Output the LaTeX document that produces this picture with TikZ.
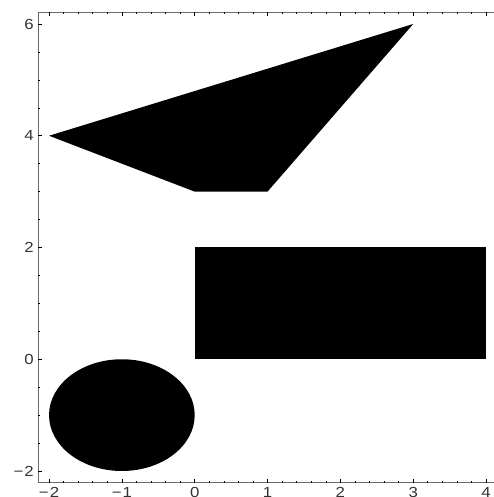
\documentclass[tikz,border=0pt]{standalone}
\usepackage{fontspec}
\setmainfont{Liberation Sans}
\newfontfamily\labfont[FakeStretch=1.15]{Liberation Sans}
\definecolor{framegray}{HTML}{6A6A6A}
\definecolor{labelgray}{HTML}{333333}
\begin{document}
\begin{tikzpicture}[x=72.83pt,y=55.875pt,
  frameline/.style={draw=framegray,line width=0.9pt},
  majortick/.style={draw=black,line width=0.6pt},
  minortick/.style={draw=black,line width=0.6pt},
  ticklabel/.style={font=\labfont\fontsize{14.6}{17}\selectfont,text=labelgray,inner sep=0pt}]
\useasboundingbox (-2.6734,-2.4653) rectangle (4.0958,6.4295);
% shapes
\fill[black] (-2,4) -- (3,6) -- (1,3) -- (0,3) -- cycle;
\fill[black] (0,0) rectangle (4,2);
\fill[black] (-1,-1) ellipse [x radius=72.83pt, y radius=55.875pt];
% frame
\coordinate (bl) at (-2.145,-2.209);
\coordinate (tl) at (-2.145,6.215);
\coordinate (br) at (4.3,-2.209);
\coordinate (tr) at (4.3,6.215);
\draw[frameline] (br) -- (bl) -- (tl) -- (tr);
% x ticks bottom and top
\foreach \i in {-10,...,20}{
  \pgfmathsetmacro{\xv}{\i/5}
  \draw[minortick] (\xv,-2.209) -- ++(0,2pt);
  \draw[minortick] (\xv,6.215) -- ++(0,-2pt);
}
\foreach \xv in {-2,...,4}{
  \draw[majortick] (\xv,-2.209) -- ++(0,4pt);
  \draw[majortick] (\xv,6.215) -- ++(0,-4pt);
}
% y ticks left
\foreach \i in {-4,...,12}{
  \pgfmathsetmacro{\yv}{\i/2}
  \draw[minortick] (-2.145,\yv) -- ++(2pt,0);
}
\foreach \yv in {-2,0,2,4,6}{
  \draw[majortick] (-2.145,\yv) -- ++(4pt,0);
}
% labels
\node[ticklabel,anchor=east] (ly6) at (-2.2065,6) {6};
\node[ticklabel,anchor=east] (ly4) at (-2.2065,4) {4};
\node[ticklabel,anchor=east] (ly2) at (-2.2065,2) {2};
\node[ticklabel,anchor=east] (ly0) at (-2.2065,0) {0};
\node[ticklabel,anchor=east] (lym2) at (-2.2065,-2) {−\kern1pt2};
\node[ticklabel,anchor=north] (lxm2) at (-2,-2.2864) {−\kern1pt2};
\node[ticklabel,anchor=north] (lxm1) at (-1,-2.2864) {−\kern1pt1};
\node[ticklabel,anchor=north] (lx0) at (0,-2.2864) {0};
\node[ticklabel,anchor=north] (lx1) at (1,-2.2864) {1};
\node[ticklabel,anchor=north] (lx2) at (2,-2.2864) {2};
\node[ticklabel,anchor=north] (lx3) at (3,-2.2864) {3};
\node[ticklabel,anchor=north] (lx4) at (4,-2.2864) {4};
\end{tikzpicture}
\end{document}
